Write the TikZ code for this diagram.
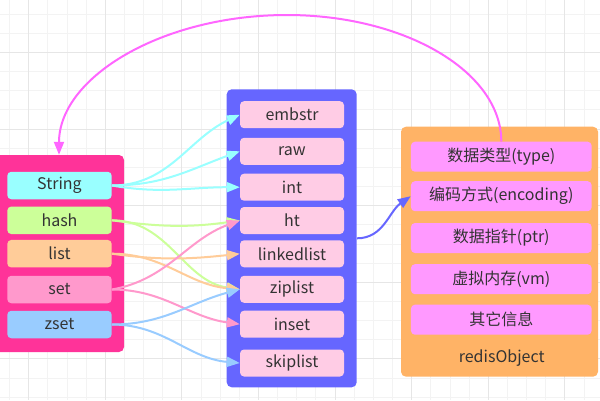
\documentclass[tikz,border=0pt]{standalone}
\usepackage{fontspec}
\setmainfont{Noto Sans CJK SC}
\usetikzlibrary{arrows.meta}
\definecolor{txt}{HTML}{333333}
\definecolor{gridminor}{HTML}{F3F3F3}
\definecolor{gridmajor}{HTML}{E6E6E6}
\definecolor{leftfill}{HTML}{FF3399}
\definecolor{midfill}{HTML}{6666FF}
\definecolor{rightfill}{HTML}{FFB366}
\definecolor{encfill}{HTML}{FFCCE5}
\definecolor{fieldfill}{HTML}{FF99FF}
\definecolor{cstring}{HTML}{99FFFF}
\definecolor{chash}{HTML}{CCFF99}
\definecolor{clist}{HTML}{FFCC99}
\definecolor{cset}{HTML}{FF99CC}
\definecolor{czset}{HTML}{99CCFF}
\definecolor{cblue}{HTML}{6666FF}
\definecolor{cmagenta}{HTML}{FF66FF}
\begin{document}
\begin{tikzpicture}[x=1pt,y=-1pt,
  basebox/.style={rectangle, rounded corners=4pt, inner sep=0pt, text=txt,
    font=\fontsize{16}{19}\selectfont},
  containerbox/.style={rectangle, rounded corners=5pt, inner sep=0pt},
  typebox/.style={basebox, minimum width=104.4pt, minimum height=27.5pt},
  encbox/.style={basebox, fill=encfill, minimum width=104pt, minimum height=27pt},
  fieldbox/.style={basebox, fill=fieldfill, minimum width=180.7pt, minimum height=30pt},
  linkline/.style={line width=2pt, -{Triangle[length=13pt,width=10pt]}},
]
\useasboundingbox (0,0) rectangle (600,400);
\fill[white] (0,0) rectangle (600,400);
% grid
\foreach \i in {-1,...,30} \draw[gridminor, line width=1pt] ({28.7+19.15*\i},0) -- ++(0,400);
\foreach \j in {-2,...,18} \draw[gridminor, line width=1pt] (0,{52.5+19.15*\j}) -- ++(600,0);
\foreach \i in {0,...,7} \draw[gridmajor, line width=1pt] ({28.7+76.6*\i},0) -- ++(0,400);
\foreach \j in {0,...,4} \draw[gridmajor, line width=1pt] (0,{52.5+76.6*\j}) -- ++(600,0);

% containers
\node[containerbox, fill=leftfill, minimum width=130pt, minimum height=197pt] (leftbox) at (59,253.5) {};
\node[containerbox, fill=midfill, minimum width=130pt, minimum height=298pt] (midbox) at (291.7,238.3) {};
\node[containerbox, fill=rightfill, minimum width=197pt, minimum height=250pt] (rightbox) at (499.5,251.7) {};

% left types
\node[typebox, fill=cstring] (String) at (59.5,185.5) {String};
\node[typebox, fill=chash] (hash) at (59.5,220.3) {hash};
\node[typebox, fill=clist] (list) at (59.5,253.7) {list};
\node[typebox, fill=cset] (set) at (59.5,289.5) {set};
\node[typebox, fill=czset] (zset) at (59.5,324.5) {zset};

% middle encodings
\node[encbox] (embstr) at (292,114.7) {embstr};
\node[encbox] (raw) at (292,151.3) {raw};
\node[encbox] (int) at (292,187.2) {int};
\node[encbox] (ht) at (292,220.5) {ht};
\node[encbox] (linkedlist) at (292,253.8) {linkedlist};
\node[encbox] (ziplist) at (292,289.3) {ziplist};
\node[encbox] (inset) at (292,324.2) {inset};
\node[encbox] (skiplist) at (292,363) {skiplist};

% right fields
\node[fieldbox] (typ) at (501.3,156.7) {数据类型(type)};
\node[fieldbox] (enc) at (501.3,196.2) {编码方式(encoding)};
\node[fieldbox] (ptr) at (501.3,238) {数据指针(ptr)};
\node[fieldbox] (vm) at (501.3,279.2) {虚拟内存(vm)};
\node[fieldbox] (other) at (501.3,319.7) {其它信息};
\node[basebox] (robj) at (501.7,358.3) {redisObject};

% links
\draw[linkline, cstring] (String.east) to[out=0,in=205] (embstr.west);
\draw[linkline, cstring] (String.east) to[out=0,in=200] (raw.west);
\draw[linkline, cstring] (String.east) to[out=-10,in=180] (int.west);
\draw[linkline, chash] (hash.east) to[out=-8,in=188] (ht.west);
\draw[linkline, chash] (hash.east) to[out=0,in=172] (ziplist.west);
\draw[linkline, clist] (list.east) to[out=-8,in=186] (linkedlist.west);
\draw[linkline, clist] (list.east) to[out=0,in=175] (ziplist.west);
\draw[linkline, cset] (set.east) to[out=10,in=200] (ht.west);
\draw[linkline, cset] (set.east) to[out=0,in=172] (inset.west);
\draw[linkline, czset] (zset.east) to[out=0,in=195] (ziplist.west);
\draw[linkline, czset] (zset.east) to[out=0,in=175] (skiplist.west);

\draw[linkline, cblue] (midbox.east) to[out=0,in=215] (enc.west);

\coordinate (arctop) at (287,15);
\draw[linkline, cmagenta] (typ.north) .. controls +(0,-70) and +(117.6,0) .. (arctop)
  .. controls +(-125.4,0) and +(0,-77.3) .. (leftbox.north);
\end{tikzpicture}
\end{document}
